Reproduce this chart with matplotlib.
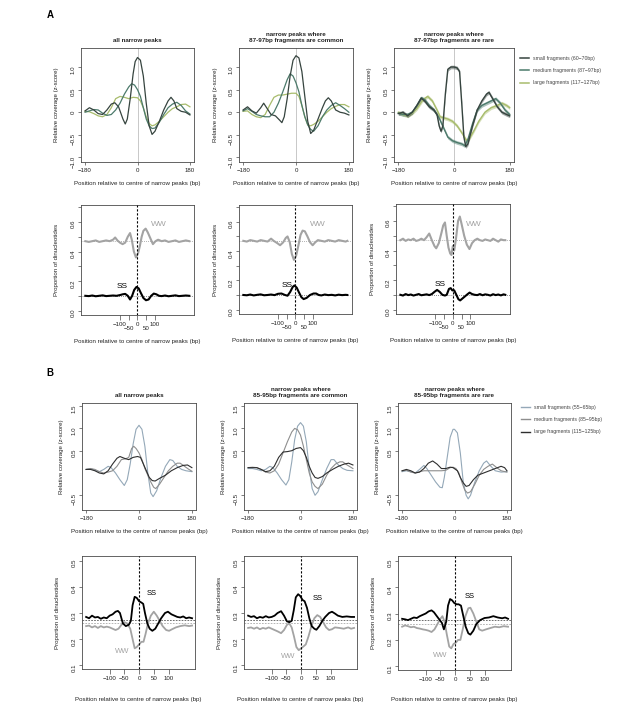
import matplotlib.pyplot as plt

plt.rcParams['font.family'] = ['Liberation Sans', 'DejaVu Sans']

W, H = 617, 717
M = '\u2212'

# ---------------- A, top row: relative coverage (z-score), (bp, z) -----------
a_all_small = [(-180, 0.03), (-165, 0.10), (-150, 0.05), (-135, -0.03), (-120, -0.05), (-105, 0.05),
               (-90, 0.18), (-78, 0.21), (-65, 0.12), (-50, -0.15), (-42, -0.26), (-35, -0.15),
               (-25, 0.30), (-15, 0.85), (-8, 1.12), (0, 1.21), (10, 1.15), (20, 0.80), (30, 0.20),
               (40, -0.30), (50, -0.49), (60, -0.42), (75, -0.20), (90, 0.05), (105, 0.25),
               (115, 0.33), (125, 0.25), (135, 0.08), (150, 0.02), (165, 0.00), (180, -0.06)]
a_all_medium = [(-180, 0.00), (-165, 0.03), (-150, 0.06), (-135, 0.05), (-120, -0.02), (-105, -0.07),
                (-90, -0.05), (-75, 0.05), (-60, 0.20), (-45, 0.40), (-30, 0.56), (-20, 0.63),
                (-10, 0.60), (0, 0.50), (10, 0.35), (20, 0.10), (30, -0.15), (40, -0.30), (50, -0.36),
                (60, -0.35), (75, -0.22), (90, -0.05), (105, 0.10), (120, 0.18), (135, 0.22),
                (150, 0.15), (165, 0.03), (180, -0.04)]
a_all_large = [(-180, 0.02), (-165, 0.01), (-150, -0.03), (-135, -0.08), (-120, -0.10), (-105, -0.05),
               (-90, 0.10), (-75, 0.30), (-60, 0.35), (-45, 0.33), (-30, 0.30), (-15, 0.33), (0, 0.32),
               (10, 0.25), (20, 0.10), (30, -0.10), (40, -0.25), (50, -0.30), (60, -0.28), (75, -0.20),
               (90, -0.10), (105, 0.00), (120, 0.08), (135, 0.12), (150, 0.17), (165, 0.18), (180, 0.12)]

a_common_small = [(-180, 0.05), (-165, 0.12), (-150, 0.03), (-135, -0.02), (-120, 0.10), (-110, 0.20),
                  (-100, 0.10), (-85, -0.05), (-70, -0.08), (-55, -0.18), (-48, -0.23), (-40, -0.10),
                  (-30, 0.30), (-20, 0.80), (-10, 1.15), (0, 1.25), (10, 1.20), (20, 0.90), (30, 0.35),
                  (40, -0.20), (50, -0.47), (60, -0.40), (75, -0.15), (90, 0.10), (100, 0.25),
                  (110, 0.32), (120, 0.25), (135, 0.05), (150, 0.00), (165, -0.02), (180, -0.06)]
a_common_medium = [(-180, 0.03), (-165, 0.08), (-150, 0.02), (-135, -0.05), (-120, -0.08), (-105, -0.10),
                   (-90, -0.10), (-75, 0.00), (-60, 0.20), (-45, 0.45), (-30, 0.72), (-20, 0.85),
                   (-10, 0.80), (0, 0.65), (10, 0.45), (20, 0.15), (30, -0.10), (40, -0.28), (50, -0.38),
                   (60, -0.42), (75, -0.30), (90, -0.10), (105, 0.05), (120, 0.15), (135, 0.21),
                   (150, 0.15), (165, 0.08), (180, 0.00)]
a_common_large = [(-180, 0.02), (-165, 0.03), (-150, -0.05), (-135, -0.10), (-120, -0.12), (-105, -0.05),
                  (-90, 0.15), (-75, 0.33), (-60, 0.38), (-45, 0.38), (-30, 0.40), (-15, 0.42), (0, 0.42),
                  (10, 0.35), (20, 0.15), (30, -0.10), (40, -0.28), (50, -0.30), (60, -0.27), (75, -0.20),
                  (90, -0.10), (105, 0.00), (120, 0.08), (135, 0.13), (150, 0.17), (165, 0.17), (180, 0.12)]

a_rare_small = [(-180, -0.03), (-165, 0.00), (-150, -0.08), (-135, 0.00), (-120, 0.15), (-106, 0.31),
                (-95, 0.25), (-80, 0.12), (-65, 0.05), (-55, -0.05), (-48, -0.30), (-42, -0.42),
                (-36, -0.30), (-28, 0.40), (-20, 0.95), (-10, 1.00), (0, 1.00), (10, 0.98), (18, 0.90),
                (25, 0.20), (32, -0.55), (38, -0.76), (45, -0.70), (60, -0.30), (75, 0.05), (90, 0.25),
                (105, 0.40), (113, 0.44), (125, 0.30), (140, 0.12), (155, 0.00), (170, -0.05), (180, -0.08)]
a_rare_medium = [(-180, -0.02), (-165, -0.05), (-150, -0.05), (-135, 0.00), (-120, 0.15), (-106, 0.32),
                 (-95, 0.28), (-80, 0.15), (-65, 0.05), (-50, -0.10), (-40, -0.25), (-30, -0.40),
                 (-20, -0.55), (-5, -0.63), (10, -0.67), (25, -0.70), (35, -0.74), (45, -0.60),
                 (60, -0.25), (75, 0.05), (90, 0.15), (105, 0.20), (120, 0.25), (135, 0.30), (150, 0.20),
                 (165, 0.05), (180, -0.05)]
a_rare_large = [(-180, 0.00), (-165, -0.05), (-150, -0.08), (-135, -0.02), (-120, 0.08), (-100, 0.28),
                (-85, 0.35), (-70, 0.25), (-55, 0.05), (-45, -0.10), (-35, -0.12), (-20, -0.15),
                (-5, -0.20), (10, -0.30), (25, -0.45), (40, -0.62), (50, -0.58), (65, -0.40), (80, -0.20),
                (100, 0.00), (120, 0.10), (140, 0.15), (155, 0.20), (170, 0.15), (180, 0.10)]

# ---------------- A, bottom row: proportion of dinucleotides ----------------
a_all_ww = [(-300, 0.47), (-280, 0.465), (-260, 0.47), (-240, 0.475), (-220, 0.465), (-200, 0.47),
            (-180, 0.475), (-160, 0.47), (-140, 0.48), (-128, 0.495), (-115, 0.475), (-100, 0.46),
            (-85, 0.45), (-70, 0.46), (-55, 0.50), (-42, 0.525), (-32, 0.48), (-20, 0.40), (-8, 0.36),
            (5, 0.39), (15, 0.44), (25, 0.50), (35, 0.54), (48, 0.555), (60, 0.53), (75, 0.49), (90, 0.45),
            (105, 0.47), (120, 0.48), (140, 0.47), (160, 0.475), (180, 0.465), (200, 0.47), (220, 0.475),
            (240, 0.465), (260, 0.47), (280, 0.475), (300, 0.47)]
a_all_ss = [(-300, 0.10), (-280, 0.098), (-260, 0.102), (-240, 0.097), (-220, 0.10), (-200, 0.103),
            (-180, 0.098), (-160, 0.10), (-140, 0.102), (-120, 0.10), (-100, 0.105), (-85, 0.11),
            (-70, 0.113), (-55, 0.10), (-42, 0.075), (-30, 0.10), (-18, 0.14), (-5, 0.16), (8, 0.15),
            (20, 0.12), (35, 0.085), (50, 0.07), (65, 0.075), (80, 0.10), (95, 0.115), (110, 0.11),
            (125, 0.10), (140, 0.098), (160, 0.102), (180, 0.097), (200, 0.10), (220, 0.103),
            (240, 0.098), (260, 0.10), (280, 0.102), (300, 0.10)]
a_common_ww = [(-300, 0.47), (-280, 0.465), (-260, 0.475), (-240, 0.47), (-220, 0.465), (-200, 0.475),
               (-180, 0.47), (-160, 0.465), (-140, 0.485), (-125, 0.47), (-105, 0.455), (-88, 0.44),
               (-70, 0.46), (-55, 0.49), (-45, 0.50), (-32, 0.46), (-20, 0.38), (-8, 0.34), (5, 0.37),
               (18, 0.44), (30, 0.51), (42, 0.54), (55, 0.535), (70, 0.50), (85, 0.46), (100, 0.44),
               (115, 0.46), (130, 0.475), (150, 0.47), (170, 0.465), (190, 0.475), (210, 0.47),
               (230, 0.465), (250, 0.475), (270, 0.47), (290, 0.465), (300, 0.47)]
a_common_ss = [(-300, 0.10), (-280, 0.098), (-260, 0.103), (-240, 0.097), (-220, 0.101), (-200, 0.104),
               (-180, 0.098), (-160, 0.10), (-140, 0.103), (-120, 0.099), (-100, 0.108), (-80, 0.11),
               (-60, 0.10), (-45, 0.095), (-30, 0.12), (-15, 0.155), (-5, 0.165), (8, 0.15), (20, 0.12),
               (35, 0.085), (48, 0.072), (65, 0.08), (85, 0.10), (105, 0.11), (120, 0.11), (135, 0.10),
               (150, 0.097), (170, 0.103), (190, 0.099), (210, 0.101), (230, 0.097), (250, 0.102),
               (270, 0.099), (290, 0.101), (300, 0.10)]
a_rare_ww = [(-300, 0.47), (-285, 0.48), (-270, 0.465), (-255, 0.475), (-240, 0.47), (-225, 0.48),
             (-210, 0.465), (-195, 0.47), (-180, 0.48), (-165, 0.47), (-150, 0.49), (-135, 0.515),
             (-120, 0.47), (-105, 0.43), (-95, 0.415), (-80, 0.45), (-65, 0.52), (-55, 0.57), (-45, 0.59),
             (-35, 0.50), (-25, 0.42), (-15, 0.38), (-8, 0.37), (0, 0.43), (8, 0.40), (18, 0.48),
             (30, 0.60), (40, 0.63), (50, 0.58), (65, 0.50), (80, 0.44), (95, 0.41), (110, 0.45),
             (125, 0.47), (140, 0.48), (155, 0.47), (170, 0.465), (185, 0.475), (200, 0.47), (215, 0.465),
             (230, 0.48), (245, 0.47), (260, 0.46), (275, 0.475), (290, 0.47), (300, 0.47)]
a_rare_ss = [(-300, 0.10), (-285, 0.095), (-270, 0.105), (-255, 0.098), (-240, 0.102), (-225, 0.095),
             (-210, 0.10), (-195, 0.105), (-180, 0.097), (-165, 0.10), (-150, 0.103), (-135, 0.098),
             (-120, 0.105), (-105, 0.12), (-90, 0.133), (-75, 0.12), (-60, 0.10), (-45, 0.095), (-35, 0.10),
             (-22, 0.14), (-12, 0.145), (-3, 0.13), (8, 0.13), (20, 0.10), (32, 0.07), (42, 0.062),
             (55, 0.075), (70, 0.09), (85, 0.105), (96, 0.115), (110, 0.105), (125, 0.10), (140, 0.098),
             (155, 0.105), (170, 0.097), (185, 0.103), (200, 0.10), (215, 0.095), (230, 0.104),
             (245, 0.098), (260, 0.102), (275, 0.096), (290, 0.103), (300, 0.10)]
a_means = {'ww': 0.47, 'ss': 0.10}

# ---------------- B, top row: relative coverage (z-score) ---------------------
b_all_small = [(-180, 0.08), (-165, 0.10), (-150, 0.06), (-135, 0.03), (-120, 0.08), (-105, 0.15),
               (-95, 0.12), (-80, 0.00), (-65, -0.15), (-50, -0.28), (-40, -0.15), (-30, 0.20),
               (-20, 0.65), (-10, 0.98), (0, 1.07), (10, 0.98), (20, 0.60), (30, 0.00), (40, -0.45),
               (48, -0.53), (60, -0.40), (75, -0.10), (90, 0.15), (105, 0.30), (115, 0.28), (130, 0.15),
               (145, 0.08), (160, 0.05), (180, 0.03)]
b_all_medium = [(-180, 0.08), (-165, 0.10), (-150, 0.08), (-135, 0.03), (-120, 0.00), (-105, 0.02),
                (-90, 0.05), (-75, 0.15), (-60, 0.30), (-45, 0.32), (-35, 0.35), (-25, 0.55), (-18, 0.60),
                (-10, 0.55), (0, 0.45), (10, 0.30), (20, 0.10), (30, -0.05), (40, -0.20), (50, -0.32),
                (57, -0.35), (70, -0.25), (85, -0.10), (100, 0.05), (115, 0.15), (130, 0.22), (140, 0.22),
                (155, 0.15), (170, 0.08), (180, 0.04)]
b_all_large = [(-180, 0.08), (-165, 0.08), (-150, 0.05), (-135, 0.00), (-120, -0.02), (-105, 0.05),
               (-90, 0.20), (-75, 0.33), (-65, 0.37), (-50, 0.33), (-35, 0.30), (-20, 0.35), (-5, 0.37),
               (5, 0.35), (15, 0.20), (25, 0.05), (35, -0.10), (45, -0.17), (55, -0.18), (70, -0.12),
               (90, -0.05), (110, 0.05), (130, 0.12), (150, 0.17), (165, 0.18), (180, 0.12)]

b_common_small = [(-180, 0.10), (-165, 0.10), (-150, 0.08), (-135, 0.05), (-120, 0.08), (-105, 0.15),
                  (-95, 0.12), (-80, 0.00), (-65, -0.15), (-50, -0.27), (-40, -0.15), (-30, 0.25),
                  (-20, 0.75), (-10, 1.05), (0, 1.13), (10, 1.05), (20, 0.70), (30, 0.10), (40, -0.35),
                  (50, -0.50), (60, -0.42), (75, -0.15), (90, 0.10), (105, 0.30), (115, 0.30), (130, 0.18),
                  (145, 0.10), (160, 0.06), (180, 0.05)]
b_common_medium = [(-180, 0.12), (-165, 0.13), (-150, 0.12), (-135, 0.08), (-120, 0.02), (-105, 0.00),
                   (-90, 0.05), (-75, 0.20), (-60, 0.45), (-45, 0.70), (-30, 0.92), (-20, 1.00),
                   (-10, 0.97), (0, 0.85), (10, 0.60), (20, 0.30), (30, 0.00), (40, -0.20), (50, -0.30),
                   (60, -0.35), (75, -0.25), (90, -0.05), (105, 0.10), (120, 0.20), (135, 0.25),
                   (145, 0.25), (160, 0.18), (180, 0.10)]
b_common_large = [(-180, 0.12), (-165, 0.12), (-150, 0.12), (-135, 0.08), (-120, 0.03), (-105, 0.05),
                  (-90, 0.15), (-75, 0.35), (-60, 0.47), (-45, 0.48), (-30, 0.50), (-15, 0.55), (0, 0.57),
                  (10, 0.50), (20, 0.35), (30, 0.15), (40, 0.00), (50, -0.10), (60, -0.12), (75, -0.08),
                  (90, 0.00), (110, 0.08), (130, 0.15), (150, 0.20), (165, 0.22), (180, 0.18)]

b_rare_small = [(-180, 0.03), (-165, 0.05), (-150, 0.03), (-135, 0.00), (-120, 0.08), (-105, 0.17),
                (-95, 0.10), (-80, -0.05), (-65, -0.20), (-50, -0.32), (-42, -0.33), (-35, -0.10),
                (-25, 0.35), (-15, 0.80), (-5, 0.98), (0, 0.98), (10, 0.90), (20, 0.45), (30, -0.20),
                (40, -0.50), (47, -0.58), (55, -0.50), (70, -0.20), (85, 0.05), (100, 0.22), (110, 0.27),
                (125, 0.15), (140, 0.05), (160, 0.02), (180, 0.03)]
b_rare_medium = [(-180, 0.05), (-165, 0.06), (-150, 0.02), (-135, 0.00), (-120, 0.03), (-105, 0.05),
                 (-90, 0.05), (-75, 0.05), (-60, 0.05), (-45, 0.05), (-30, 0.06), (-15, 0.12), (-5, 0.13),
                 (5, 0.10), (15, 0.00), (25, -0.20), (35, -0.38), (45, -0.45), (55, -0.42), (70, -0.25),
                 (85, -0.05), (100, 0.08), (115, 0.15), (130, 0.20), (145, 0.12), (160, 0.05), (180, 0.02)]
b_rare_large = [(-180, 0.05), (-165, 0.08), (-150, 0.05), (-135, 0.00), (-120, 0.02), (-105, 0.10),
                (-90, 0.22), (-75, 0.27), (-60, 0.20), (-45, 0.10), (-30, 0.10), (-15, 0.13), (-5, 0.12),
                (10, 0.05), (20, -0.10), (30, -0.22), (40, -0.30), (50, -0.28), (65, -0.15), (80, -0.05),
                (100, 0.00), (120, 0.05), (140, 0.10), (160, 0.15), (172, 0.12), (180, 0.05)]

# ---------------- B, bottom row: proportion of dinucleotides ----------------
b_all_ss = [(-180, 0.285), (-170, 0.28), (-160, 0.29), (-150, 0.283), (-140, 0.285), (-130, 0.278),
            (-120, 0.283), (-110, 0.28), (-100, 0.29), (-90, 0.295), (-80, 0.305), (-72, 0.308),
            (-65, 0.30), (-55, 0.26), (-45, 0.25), (-35, 0.255), (-28, 0.27), (-22, 0.33), (-15, 0.362),
            (-8, 0.358), (0, 0.345), (8, 0.34), (14, 0.335), (20, 0.30), (28, 0.26), (36, 0.24),
            (45, 0.232), (55, 0.24), (65, 0.26), (75, 0.28), (88, 0.30), (98, 0.305), (110, 0.295),
            (120, 0.29), (130, 0.285), (140, 0.283), (150, 0.287), (160, 0.28), (170, 0.283), (180, 0.28)]
b_all_ww = [(-180, 0.25), (-170, 0.252), (-160, 0.245), (-150, 0.25), (-140, 0.243), (-130, 0.25),
            (-120, 0.245), (-110, 0.248), (-100, 0.245), (-90, 0.24), (-80, 0.235), (-70, 0.24),
            (-60, 0.255), (-50, 0.265), (-40, 0.26), (-30, 0.24), (-22, 0.20), (-15, 0.165), (-8, 0.17),
            (0, 0.18), (8, 0.19), (15, 0.19), (22, 0.22), (30, 0.26), (40, 0.29), (50, 0.305), (60, 0.29),
            (70, 0.27), (80, 0.25), (92, 0.235), (102, 0.232), (112, 0.238), (125, 0.245), (140, 0.25),
            (155, 0.253), (170, 0.25), (180, 0.252)]
b_common_ss = [(-180, 0.29), (-170, 0.285), (-160, 0.288), (-150, 0.28), (-140, 0.285), (-130, 0.282),
               (-120, 0.288), (-110, 0.283), (-100, 0.285), (-90, 0.29), (-80, 0.30), (-68, 0.307),
               (-58, 0.29), (-48, 0.268), (-40, 0.265), (-32, 0.27), (-25, 0.31), (-18, 0.36), (-10, 0.372),
               (-3, 0.365), (5, 0.35), (12, 0.345), (20, 0.32), (28, 0.28), (36, 0.25), (45, 0.24),
               (52, 0.236), (62, 0.25), (72, 0.27), (82, 0.285), (95, 0.30), (105, 0.305), (115, 0.298),
               (125, 0.29), (140, 0.285), (155, 0.287), (170, 0.285), (180, 0.285)]
b_common_ww = [(-180, 0.243), (-170, 0.245), (-160, 0.24), (-150, 0.245), (-140, 0.238), (-130, 0.243),
               (-120, 0.24), (-110, 0.245), (-100, 0.24), (-90, 0.235), (-80, 0.23), (-68, 0.223),
               (-58, 0.235), (-48, 0.255), (-40, 0.26), (-32, 0.245), (-24, 0.21), (-16, 0.17), (-8, 0.158),
               (0, 0.165), (8, 0.172), (16, 0.18), (25, 0.21), (35, 0.25), (45, 0.28), (55, 0.292),
               (65, 0.285), (75, 0.265), (85, 0.245), (95, 0.235), (105, 0.238), (115, 0.245), (130, 0.243),
               (145, 0.24), (160, 0.245), (170, 0.24), (180, 0.243)]
b_rare_ss = [(-180, 0.28), (-170, 0.278), (-160, 0.275), (-150, 0.28), (-140, 0.285), (-130, 0.283),
             (-120, 0.29), (-110, 0.295), (-100, 0.30), (-90, 0.308), (-80, 0.312), (-72, 0.305),
             (-62, 0.29), (-52, 0.275), (-45, 0.265), (-38, 0.24), (-30, 0.27), (-24, 0.33), (-17, 0.355),
             (-10, 0.35), (-3, 0.34), (5, 0.335), (12, 0.335), (20, 0.33), (28, 0.29), (36, 0.25),
             (45, 0.225), (52, 0.22), (62, 0.235), (72, 0.26), (85, 0.275), (100, 0.283), (115, 0.285),
             (130, 0.29), (145, 0.285), (160, 0.282), (170, 0.285), (180, 0.28)]
b_rare_ww = [(-180, 0.25), (-170, 0.255), (-160, 0.252), (-150, 0.248), (-140, 0.25), (-130, 0.245),
             (-120, 0.243), (-110, 0.24), (-100, 0.238), (-90, 0.235), (-80, 0.23), (-70, 0.24),
             (-60, 0.26), (-50, 0.28), (-43, 0.29), (-36, 0.27), (-28, 0.22), (-20, 0.175), (-13, 0.168),
             (-5, 0.185), (3, 0.19), (10, 0.20), (18, 0.20), (26, 0.24), (35, 0.29), (45, 0.32),
             (52, 0.322), (62, 0.30), (72, 0.27), (82, 0.24), (92, 0.235), (105, 0.24), (120, 0.245),
             (135, 0.25), (150, 0.248), (165, 0.252), (180, 0.25)]
b_means = {'ss': 0.275, 'ww': 0.262}

# label positions (bp, value) of the WW / SS annotations
a_ww_text = [(127, 0.58), (130, 0.585), (120, 0.575)]
a_ss_text = [(-85, 0.16), (-45, 0.165), (-70, 0.17)]
b_ss_text = [(42, 0.375), (56, 0.357), (48, 0.363)]
b_ww_text = [(-58, 0.153), (-43, 0.134), (-52, 0.14)]

titles_a = ['all narrow peaks', 'narrow peaks where\n87-97bp fragments are common',
            'narrow peaks where\n87-97bp fragments are rare']
titles_b = ['all narrow peaks', 'narrow peaks where\n85-95bp fragments are common',
            'narrow peaks where\n85-95bp fragments are rare']
legend_a = ['small fragments (60' + M + '70bp)', 'medium fragments (87' + M + '97bp)',
            'large fragments (117' + M + '127bp)']
legend_b = ['small fragments (55' + M + '65bp)', 'medium fragments (85' + M + '95bp)',
            'large fragments (115' + M + '125bp)']

col_a = ['#36443f', '#4c7a6b', '#a8bc6c']
col_b = ['#94a8b8', '#8e8e8e', '#2e2e2e']
GREY_WW = '#a3a3a3'

# panel frames in pixels: (left, right, top, bottom)
box_a_top = [(81, 194, 48, 162), (239, 353, 48, 162), (394, 514, 48, 162)]
box_a_bot = [(81, 194, 205, 315), (239, 352, 205, 314), (396, 510, 204, 314)]
box_b_top = [(82, 196, 403, 510), (244, 357, 403, 510), (398, 511, 403, 510)]
box_b_bot = [(82, 195, 556, 669), (244, 357, 556, 669), (398, 511, 556, 670)]

FS = 4.4

fig = plt.figure(figsize=(W / 100, H / 100), dpi=100)


def unzip(pts):
    return [p[0] for p in pts], [p[1] for p in pts]


def new_axes(b, xlab, xlab_y, ylab, ylab_off):
    x0, x1, y0, y1 = b
    ax = fig.add_axes([x0 / W, 1 - y1 / H, (x1 - x0) / W, (y1 - y0) / H])
    for sp in ax.spines.values():
        sp.set_linewidth(0.6)
        sp.set_color('#4a4a4a')
    ax.tick_params(which='both', direction='out', length=2.5, width=0.5, labelsize=FS,
                   pad=1.5, color='#4a4a4a', labelcolor='#222222')
    ax.tick_params(axis='y', which='both', labelrotation=90)
    ax.set_xlabel(xlab, fontsize=FS, color='#222222')
    ax.xaxis.set_label_coords(0.5, -(xlab_y - y1) / (y1 - y0))
    ax.xaxis.label.set_va('center')
    ax.set_ylabel(ylab, fontsize=FS, color='#222222')
    ax.yaxis.set_label_coords(-ylab_off / (x1 - x0), 0.5)
    ax.yaxis.label.set_va('center')
    return ax


def title(ax, t):
    ax.set_title(t, fontsize=4.5, fontweight='bold', pad=4.5, linespacing=1.3, color='#222222')


def coverage_axis(ax, yticks, ylabels, ylim):
    ax.set_xlim(-194, 194)
    ax.set_ylim(*ylim)
    ax.set_xticks([-180, 0, 180], [M + '180', '0', '180'])
    ax.set_yticks(yticks, ylabels)


def dinuc_axis_a(ax):
    ax.set_xlim(-325, 327)
    ax.set_ylim(-0.03, 0.715)
    ax.set_xticks([-100, 0, 100], [M + '100', '0', '100'])
    ax.set_xticks([-50, 50], [M + '50', '50'], minor=True)
    ax.tick_params(axis='x', which='minor', pad=4.5)
    ax.tick_params(axis='x', which='both', length=3.5)
    ax.set_yticks([0.0, 0.2, 0.4, 0.6], ['0.0', '0.2', '0.4', '0.6'])
    ax.set_yticks([0.1, 0.3, 0.5, 0.7], minor=True)


def dinuc_axis_b(ax):
    ax.set_xlim(-194, 190)
    ax.set_ylim(0.086, 0.518)
    ax.set_xticks([-100, -50, 0, 50, 100], [M + '100', M + '50', '0', '50', '100'])
    ax.tick_params(axis='x', length=3.5)
    ax.set_yticks([0.1, 0.2, 0.3, 0.4, 0.5], ['0.1', '0.2', '0.3', '0.4', '0.5'])


xl_a = 'Position relative to centre of narrow peaks (bp)'
xl_b = 'Position relative to the centre of narrow peaks (bp)'
yl_cov = 'Relative coverage (z-score)'
yl_din = 'Proportion of dinucleotides'

# ---------------- A top ----------------
a_top = [(a_all_small, a_all_medium, a_all_large),
         (a_common_small, a_common_medium, a_common_large),
         (a_rare_small, a_rare_medium, a_rare_large)]
for i, series in enumerate(a_top):
    ax = new_axes(box_a_top[i], xl_a, 184, yl_cov, 24)
    ax.axvline(0, color='#c8c8c8', lw=0.7, zorder=1)
    for k in [2, 1, 0]:
        x, y = unzip(series[k])
        if i == 2:
            ax.fill_between(x, [v - 0.04 for v in y], [v + 0.04 for v in y],
                            color=col_a[k], alpha=0.45, lw=0, zorder=2)
            ax.plot(x, y, color=col_a[k], lw=1.0, zorder=3)
        else:
            ax.plot(x, y, color=col_a[k], lw=0.9, zorder=3)
    coverage_axis(ax, [-1, -0.5, 0, 0.5, 1.0], [M + '1.0', M + '0.5', '0', '0.5', '1.0'], (-1.1, 1.42))
    title(ax, titles_a[i])
    if i == 2:
        hs = [plt.Line2D([], [], color=c, lw=1.1) for c in col_a]
        ax.legend(hs, legend_a, loc='upper left', bbox_to_anchor=(520 / W, 1 - 56 / H),
                  bbox_transform=fig.transFigure, frameon=False, fontsize=3.7, handlelength=1.7,
                  handletextpad=0.9, labelspacing=1.4, borderpad=0, borderaxespad=0,
                  labelcolor='#444444')

# ---------------- A bottom ----------------
a_bot = [(a_all_ww, a_all_ss), (a_common_ww, a_common_ss), (a_rare_ww, a_rare_ss)]
for i, (ww, ss) in enumerate(a_bot):
    ax = new_axes(box_a_bot[i], xl_a, 341, yl_din, 24)
    ax.axhline(a_means['ww'], color='#9a9a9a', lw=0.6, ls=(0, (1, 1.5)), zorder=1)
    ax.axhline(a_means['ss'], color='#666666', lw=0.6, ls=(0, (1, 1.5)), zorder=1)
    x, y = unzip(ww)
    ax.plot(x, y, color=GREY_WW, lw=1.5, zorder=2)
    x, y = unzip(ss)
    ax.plot(x, y, color='black', lw=1.5, zorder=3)
    ax.axvline(0, color='black', lw=0.8, ls=(0, (2, 1.6)), zorder=4)
    ax.text(*a_ww_text[i], 'WW', color=GREY_WW, fontsize=6, ha='center', va='center')
    ax.text(*a_ss_text[i], 'SS', color='black', fontsize=6, ha='center', va='center')
    dinuc_axis_a(ax)

# ---------------- B top ----------------
b_top = [(b_all_small, b_all_medium, b_all_large),
         (b_common_small, b_common_medium, b_common_large),
         (b_rare_small, b_rare_medium, b_rare_large)]
for i, series in enumerate(b_top):
    ax = new_axes(box_b_top[i], xl_b, 531.5, yl_cov, 21)
    for k in [0, 1, 2]:
        x, y = unzip(series[k])
        ax.plot(x, y, color=col_b[k], lw=0.8, zorder=3)
    coverage_axis(ax, [-0.5, 0.5, 1.0, 1.5], [M + '0.5', '0.5', '1.0', '1.5'], (-0.83, 1.57))
    title(ax, titles_b[i])
    if i == 2:
        hs = [plt.Line2D([], [], color=c, lw=1.0) for c in col_b]
        ax.legend(hs, legend_b, loc='upper left', bbox_to_anchor=(521 / W, 1 - 405 / H),
                  bbox_transform=fig.transFigure, frameon=False, fontsize=3.7, handlelength=1.7,
                  handletextpad=0.9, labelspacing=1.4, borderpad=0, borderaxespad=0,
                  labelcolor='#444444')

# ---------------- B bottom ----------------
b_bot = [(b_all_ww, b_all_ss), (b_common_ww, b_common_ss), (b_rare_ww, b_rare_ss)]
for i, (ww, ss) in enumerate(b_bot):
    ax = new_axes(box_b_bot[i], xl_a, 699, yl_din, 24)
    ax.axhline(b_means['ss'], color='#555555', lw=0.6, ls=(0, (2, 1.5)), zorder=1)
    ax.axhline(b_means['ww'], color='#aaaaaa', lw=0.6, ls=(0, (2, 1.5)), zorder=1)
    x, y = unzip(ww)
    ax.plot(x, y, color=GREY_WW, lw=1.3, zorder=2)
    x, y = unzip(ss)
    ax.plot(x, y, color='black', lw=1.3, zorder=3)
    ax.axvline(0, color='black', lw=0.8, ls=(0, (2, 1.6)), zorder=4)
    ax.text(*b_ss_text[i], 'SS', color='black', fontsize=5.5, ha='center', va='center')
    ax.text(*b_ww_text[i], 'WW', color=GREY_WW, fontsize=5.5, ha='center', va='center')
    dinuc_axis_b(ax)

fig.text(50 / W, 1 - 15 / H, 'A', fontsize=7, fontweight='bold', ha='center', va='center')
fig.text(50 / W, 1 - 373 / H, 'B', fontsize=7, fontweight='bold', ha='center', va='center')

fig.savefig('out.png', dpi=100)
